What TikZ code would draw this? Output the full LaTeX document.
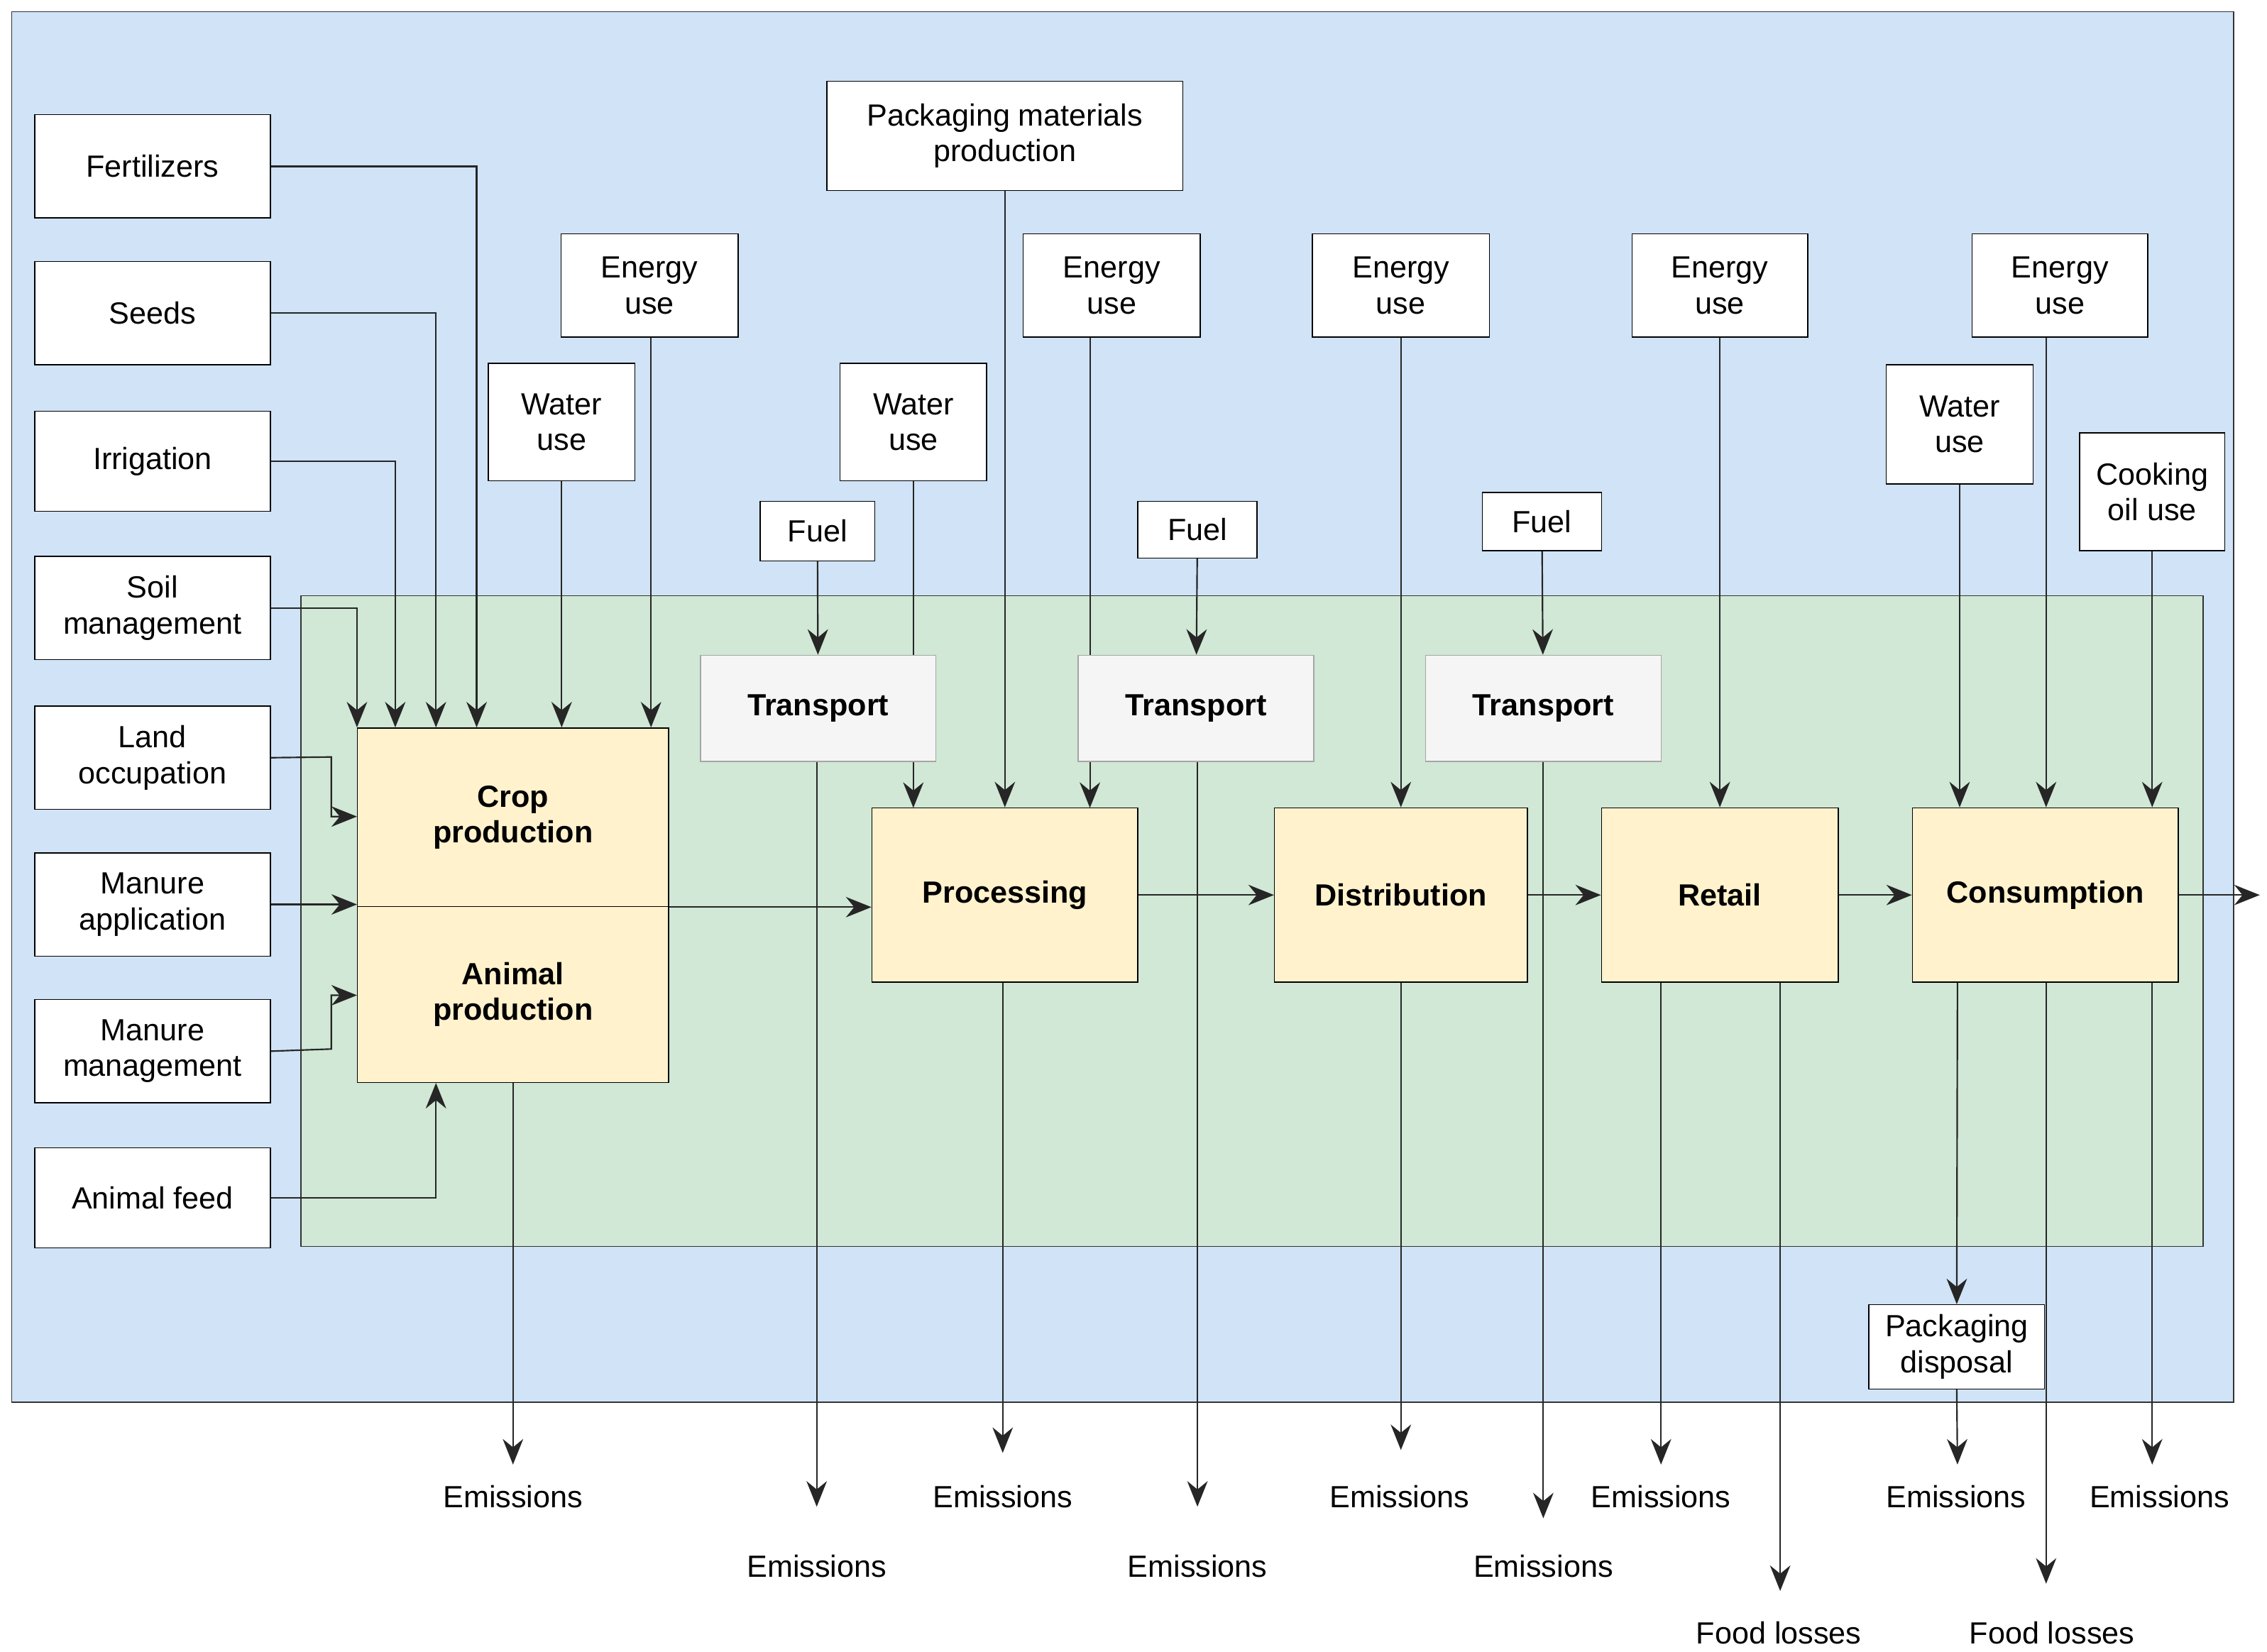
\documentclass[tikz,border=0pt]{standalone}
\usepackage{fontspec}
\setmainfont{Liberation Sans}
\usetikzlibrary{arrows.meta}
\definecolor{outerblue}{HTML}{D0E3F7}
\definecolor{innergreen}{HTML}{D0E8D5}
\definecolor{stageyellow}{HTML}{FFF2CC}
\definecolor{transgray}{HTML}{F5F5F5}
\tikzset{
  box/.style={draw, fill=white, align=center, inner sep=0pt, font=\fontsize{12}{14}\selectfont},
  stage/.style={box, fill=stageyellow, font=\fontsize{12}{14}\selectfont\bfseries},
  trans/.style={box, fill=transgray, draw=gray!70, font=\fontsize{12}{14}\selectfont\bfseries},
  lbl/.style={font=\fontsize{12}{14}\selectfont, inner sep=0pt},
  flow/.style={-{Stealth[length=10pt,width=8pt]}, black!85, line width=0.6pt},
  plain/.style={black!85, line width=0.6pt},
}
% \bx{name}{x1}{y1}{x2}{y2}{style}{text}
\newcommand{\bx}[7]{\node[#6, minimum width={(#4-#2)*0.02cm}, minimum height={(#5-#3)*0.02cm}] (#1) at ({(#2+#4)/2},{(#3+#5)/2}) {#7};}
\begin{document}
\begin{tikzpicture}[x=0.02cm, y=-0.02cm]
  \useasboundingbox (0,0) rectangle (1560,1137);
  % Backgrounds
  \draw[fill=outerblue, draw=black!80] (8,8) rectangle (1537,965);
  \draw[fill=innergreen, draw=black!80] (207,410) rectangle (1516,858);

  % Left inputs
  \bx{fert}{24}{79}{186}{150}{box}{Fertilizers}
  \bx{seeds}{24}{180}{186}{251}{box}{Seeds}
  \bx{irrig}{24}{283}{186}{352}{box}{Irrigation}
  \bx{soil}{24}{383}{186}{454}{box}{Soil\\management}
  \bx{land}{24}{486}{186}{557}{box}{Land\\occupation}
  \bx{manapp}{24}{587}{186}{658}{box}{Manure\\application}
  \bx{manman}{24}{688}{186}{759}{box}{Manure\\management}
  \bx{feed}{24}{790}{186}{859}{box}{Animal feed}

  % Top inputs
  \bx{energy1}{386}{161}{508}{232}{box}{Energy\\use}
  \bx{water1}{336}{250}{437}{331}{box}{Water\\use}
  \bx{pack}{569}{56}{814}{131}{box}{Packaging materials\\production}
  \bx{energy2}{704}{161}{826}{232}{box}{Energy\\use}
  \bx{water2}{578}{250}{679}{331}{box}{Water\\use}
  \bx{fuel1}{523}{345}{602}{386}{box}{Fuel}
  \bx{fuel2}{783}{345}{865}{384}{box}{Fuel}
  \bx{energy3}{903}{161}{1025}{232}{box}{Energy\\use}
  \bx{fuel3}{1020}{339}{1102}{379}{box}{Fuel}
  \bx{energy4}{1123}{161}{1244}{232}{box}{Energy\\use}
  \bx{energy5}{1357}{161}{1478}{232}{box}{Energy\\use}
  \bx{water3}{1298}{251}{1399}{333}{box}{Water\\use}
  \bx{oil}{1431}{298}{1531}{379}{box}{Cooking\\oil use}

  % Lines passing behind the transport boxes
  \draw[flow] (water2.south) -- (water2.south |- 0,556);
  \draw[flow] (energy2.south -| 750,0) -- (750,556);

  % Stages
  \bx{crop}{246}{501}{460}{624}{stage}{Crop\\production}
  \bx{animal}{246}{624}{460}{745}{stage}{Animal\\production}
  \bx{trans1}{482}{451}{644}{524}{trans}{Transport}
  \bx{trans2}{742}{451}{904}{524}{trans}{Transport}
  \bx{trans3}{981}{451}{1143}{524}{trans}{Transport}
  \bx{proc}{600}{556}{783}{676}{stage}{Processing}
  \bx{dist}{877}{556}{1051}{676}{stage}{Distribution}
  \bx{retail}{1102}{556}{1265}{676}{stage}{Retail}
  \bx{cons}{1316}{556}{1499}{676}{stage}{Consumption}

  % Inputs to crop and animal production
  \draw[flow] (fert.east) -| (crop.north -| 328,0);
  \draw[flow] (seeds.east) -| (crop.north -| 300,0);
  \draw[flow] (irrig.east) -| (crop.north -| 272,0);
  \draw[flow] (soil.east) -| (crop.north west);
  \draw[flow] (energy1.south -| 448,0) -- (crop.north -| 448,0);
  \draw[flow] (water1.south) -- (crop.north -| water1.south);
  \draw[flow] (land.east) -- (228,521) |- (crop.west |- 0,562);
  \draw[flow] (manapp.east) -- (crop.west |- manapp.east);
  \draw[flow] (manman.east) -- (228,722) |- (animal.west |- 0,685);
  \draw[flow] (feed.east) -| (animal.south -| 300,0);

  % Inputs to the other stages
  \draw[flow] (fuel1) -- (trans1);
  \draw[flow] (fuel2) -- (trans2);
  \draw[flow] (fuel3) -- (trans3);
  \draw[flow] (pack.south -| proc.north) -- (proc.north);
  \draw[flow] (energy3.south) -- (dist.north -| energy3.south);
  \draw[flow] (energy4.south) -- (retail.north -| energy4.south);
  \draw[flow] (water3.south) -- (cons.north -| water3.south);
  \draw[flow] (energy5.south -| 1408,0) -- (cons.north -| 1408,0);
  \draw[flow] (oil.south) -- (cons.north -| oil.south);

  % Main chain
  \draw[flow] (crop.south east) -- (proc.west |- crop.south east);
  \draw[flow] (proc) -- (dist);
  \draw[flow] (dist) -- (retail);
  \draw[flow] (retail) -- (cons);
  \coordinate (out) at (1555,616);
  \draw[flow] (cons.east |- out) -- (out);

  % Outputs
  \bx{disp}{1286}{898}{1407}{956}{box}{Packaging\\disposal}
  \coordinate (e1) at (353,1008);
  \coordinate (e2) at (562,1037);
  \coordinate (e3) at (690,1000);
  \coordinate (e4) at (824,1037);
  \coordinate (e5) at (964,998);
  \coordinate (e6) at (1062,1045);
  \coordinate (e7) at (1143,1008);
  \coordinate (f1) at (1225,1095);
  \coordinate (e8) at (1347,1008);
  \coordinate (f2) at (1408,1090);
  \coordinate (e9) at (1481,1008);
  \draw[flow] (animal.south -| e1) -- (e1);
  \draw[flow] (trans1.south -| e2) -- (e2);
  \draw[flow] (proc.south -| e3) -- (e3);
  \draw[flow] (trans2.south -| e4) -- (e4);
  \draw[flow] (dist.south -| e5) -- (e5);
  \draw[flow] (trans3.south -| e6) -- (e6);
  \draw[flow] (retail.south -| e7) -- (e7);
  \draw[flow] (retail.south -| f1) -- (f1);
  \draw[flow] (cons.south -| e8) -- (disp.north);
  \draw[flow] (disp.south) -- (e8);
  \draw[flow] (cons.south -| f2) -- (f2);
  \draw[flow] (cons.south -| e9) -- (e9);

  \node[lbl] (le1) at (353,1030) {Emissions};
  \node[lbl] (le2) at (562,1078) {Emissions};
  \node[lbl] (le3) at (690,1030) {Emissions};
  \node[lbl] (le4) at (824,1078) {Emissions};
  \node[lbl] (le5) at (963,1030) {Emissions};
  \node[lbl] (le6) at (1062,1078) {Emissions};
  \node[lbl] (le7) at (1143,1030) {Emissions};
  \node[lbl] (lf1) at (1224,1124) {Food losses};
  \node[lbl] (le8) at (1346,1030) {Emissions};
  \node[lbl] (lf2) at (1412,1124) {Food losses};
  \node[lbl] (le9) at (1486,1030) {Emissions};
\end{tikzpicture}
\end{document}
